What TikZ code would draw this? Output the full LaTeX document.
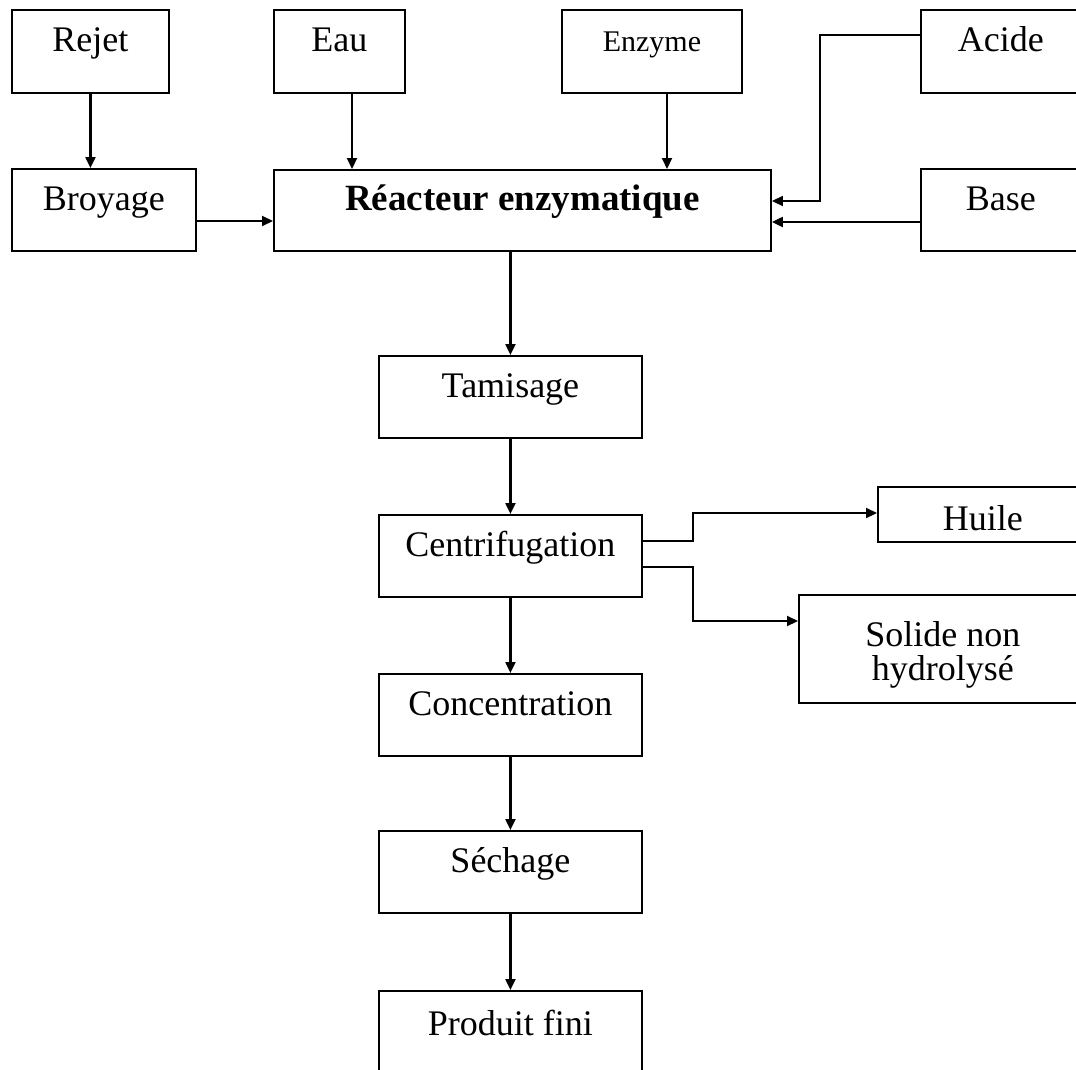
\documentclass[tikz,border=0pt]{standalone}
\usepackage{fontspec}
\setmainfont{Liberation Serif}
\usetikzlibrary{arrows.meta}

\tikzset{
  box/.style={draw, line width=1.9pt, inner sep=0pt, anchor=north west,
    font=\fontsize{36pt}{34pt}\selectfont, text height=42pt},
  arr/.style={line width=2.1pt, -{Triangle[length=11pt,width=10pt]}},
  thinarr/.style={line width=1.5pt, -{Triangle[length=11pt,width=10pt]}}
}

\begin{document}
\begin{tikzpicture}[x=1pt, y=-1pt]
  \useasboundingbox (0,0) rectangle (1076,1070);
  \clip (0,0) rectangle (1076,1070);
  \fill[white] (0,0) rectangle (1076,1070);

  % inputs
  \node[box, minimum width=157pt, text depth=41pt] (rejet) at (11,9) {Rejet};
  \node[box, minimum width=131pt, text depth=41pt] (eau) at (273,9) {Eau};
  \node[box, minimum width=180pt, text depth=41pt,
        font=\fontsize{30pt}{32pt}\selectfont] (enzyme) at (561,9) {Enzyme};
  \node[box, minimum width=160pt, text depth=41pt] (acide) at (920,9) {Acide};

  % pretreatment and reactor
  \node[box, minimum width=184pt, text depth=40pt] (broyage) at (11,168) {Broyage};
  \node[box, minimum width=497pt, text height=41pt, text depth=40pt,
        font=\fontsize{37pt}{34pt}\selectfont\bfseries] (reacteur) at (273,169) {Réacteur enzymatique};
  \node[box, minimum width=160pt, text depth=40pt] (base) at (920,168) {Base};

  % main line
  \node[box, minimum width=263pt, text depth=40pt] (tamisage) at (378,355) {Tamisage};
  \node[box, minimum width=263pt, text depth=40pt] (centri) at (378,514) {Centrifugation};
  \node[box, minimum width=263pt, text depth=40pt] (conc) at (378,673) {Concentration};
  \node[box, minimum width=263pt, text depth=40pt] (sechage) at (378,830) {Séchage};
  \node[box, minimum width=263pt, text height=45pt, text depth=45pt] (produit) at (378,990) {Produit fini};

  % side outputs
  \node[box, minimum width=210pt, text height=44pt, text depth=11pt] (huile) at (877,486) {Huile};
  \node[box, minimum width=288pt, text height=86pt, text depth=22pt, align=center] (solide) at (798,594) {Solide non\\hydrolysé};

  % feed connectors
  \draw[arr] (rejet.south) -- (rejet.south |- broyage.north);
  \draw[arr] (broyage.east |- 0,221) -- (reacteur.west |- 0,221);
  \draw[arr] (eau.south -| 352,0) -- (reacteur.north -| 352,0);
  \draw[arr] (enzyme.south -| 667,0) -- (reacteur.north -| 667,0);
  \draw[thinarr] (acide.west |- 0,35) -| (820,201) -- (reacteur.east |- 0,201);
  \draw[arr] (base.west |- 0,222) -- (reacteur.east |- 0,222);

  % process line
  \draw[arr] (reacteur.south -| tamisage.north) -- (tamisage.north);
  \draw[arr] (tamisage.south) -- (centri.north);
  \draw[arr] (centri.south) -- (conc.north);
  \draw[arr] (conc.south) -- (sechage.north);
  \draw[arr] (sechage.south) -- (produit.north);

  % separation outputs
  \draw[arr] (centri.east |- 0,541) -| (693,513) -- (huile.west |- 0,513);
  \draw[arr] (centri.east |- 0,567) -| (693,621) -- (solide.west |- 0,621);
\end{tikzpicture}
\end{document}
